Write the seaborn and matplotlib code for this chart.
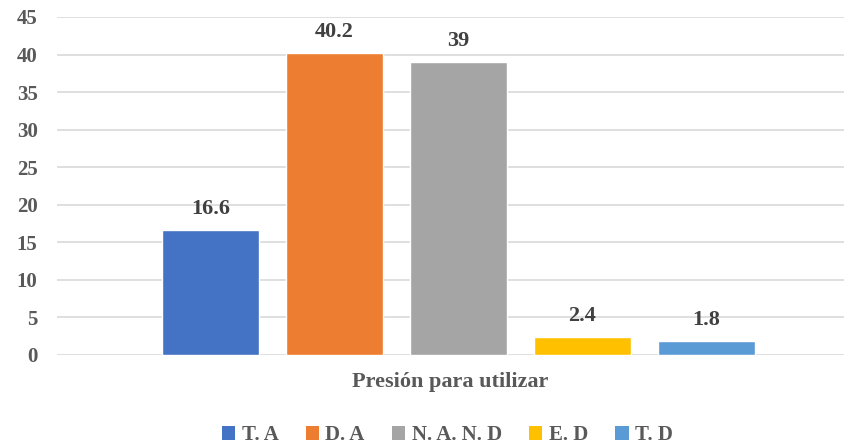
import matplotlib
matplotlib.use("Agg")
import matplotlib.pyplot as plt
from matplotlib.patches import Patch
import seaborn as sns
import pandas as pd

# Survey responses for the "Presión para utilizar" item
group = "Presión para utilizar"
series = ["T. A", "D. A", "N. A. N. D", "E. D", "T. D"]
values = [16.6, 40.2, 39, 2.4, 1.8]
colors = ["#4472C4", "#ED7D31", "#A5A5A5", "#FFC000", "#5B9BD5"]
yticks = [0, 5, 10, 15, 20, 25, 30, 35, 40, 45]

text_color = "#595959"
grid_color = "#D9D9D9"

sns.set_theme(style="white")
plt.rcParams["font.family"] = ["Liberation Serif", "DejaVu Serif"]
plt.rcParams["font.weight"] = "bold"

df = pd.DataFrame({"grupo": [group] * len(series), "serie": series, "valor": values})

fig = plt.figure(figsize=(8.44, 4.47), dpi=100)
ax = fig.add_axes([57 / 844, 1 - 355 / 447, 1 - 57 / 844, (355 - 17) / 447])

sns.barplot(data=df, x="grupo", y="valor", hue="serie", hue_order=series,
            palette=colors, width=0.78, gap=0.22, saturation=1,
            ax=ax, legend=False)

ax.set_ylim(0, 45)
ax.set_xlim(-0.505, 0.485)
ax.set_yticks(yticks)
ax.yaxis.grid(True, color=grid_color, linewidth=1.2)
ax.set_axisbelow(True)
for s in ax.spines.values():
    s.set_visible(False)

ax.tick_params(axis="y", length=0, pad=14, labelsize=15, labelcolor=text_color)
ax.tick_params(axis="x", length=0, labelbottom=False)
ax.set_ylabel("")
ax.set_xlabel(group, fontsize=16, fontweight="bold", color=text_color, labelpad=12)

for cont in ax.containers:
    ax.bar_label(cont, fmt="%g", padding=8, fontsize=16, fontweight="bold",
                 color="#404040")

handles = [Patch(facecolor=c, edgecolor="none") for c in colors]
fig.legend(handles, series, loc="center", bbox_to_anchor=(0.53, 1 - 435 / 447),
           ncol=len(series), frameon=False,
           prop={"weight": "bold", "size": 15},
           handlelength=0.65, handleheight=0.65, handletextpad=0.3,
           columnspacing=1.3, labelcolor=text_color)

fig.savefig("out.png", dpi=100)
